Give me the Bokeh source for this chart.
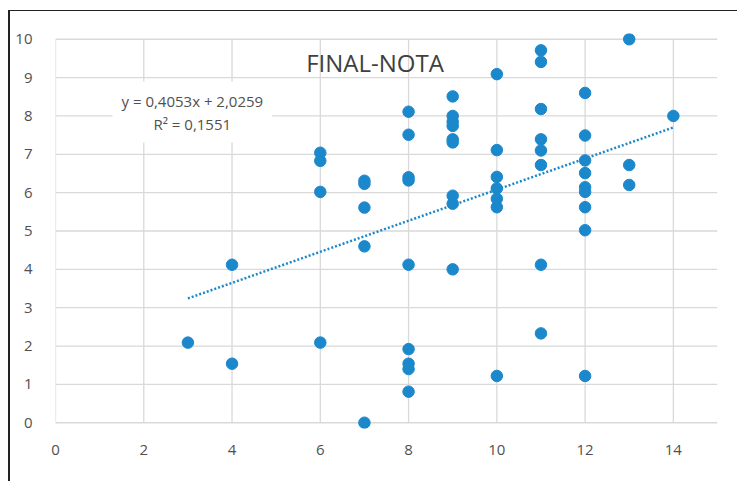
from bokeh.plotting import figure
from bokeh.models import Range1d, Label, FixedTicker, InlineStyleSheet
from bokeh.embed import file_html
from bokeh.resources import INLINE

# ---- data ----
nota_x = [3,
          4, 4,
          6, 6, 6, 6,
          7, 7, 7, 7, 7,
          8, 8, 8, 8, 8, 8, 8, 8, 8,
          9, 9, 9, 9, 9, 9, 9, 9, 9,
          10, 10, 10, 10, 10, 10, 10,
          11, 11, 11, 11, 11, 11, 11, 11,
          12, 12, 12, 12, 12, 12, 12, 12, 12,
          13, 13, 13,
          14]
nota_final = [2.09,
              4.12, 1.54,
              7.04, 6.83, 6.02, 2.09,
              6.31, 6.23, 5.61, 4.60, 0.0,
              8.11, 7.51, 6.40, 6.32, 4.12, 1.92, 1.54, 1.40, 0.81,
              8.51, 8.00, 7.85, 7.74, 7.39, 7.31, 5.92, 5.71, 4.00,
              9.09, 7.11, 6.41, 6.11, 5.84, 5.62, 1.22,
              9.71, 9.41, 8.18, 7.39, 7.10, 6.72, 4.12, 2.33,
              8.60, 7.49, 6.84, 6.51, 6.14, 6.02, 5.62, 5.02, 1.22,
              10.0, 6.72, 6.20,
              8.0]

trend_slope = 0.4053
trend_intercept = 2.0259
trend_x = [3, 14]
trend_y = [trend_slope * v + trend_intercept for v in trend_x]

x_ticks = [0, 2, 4, 6, 8, 10, 12, 14]
y_ticks = [0, 1, 2, 3, 4, 5, 6, 7, 8, 9, 10]
x_max = 15
y_max = 10

title_text = "FINAL-NOTA"
equation_text = "y = 0,4053x + 2,0259\nR\u00b2 = 0,1551"

# ---- styling ----
BLUE = "#1C88CC"
GRID = "#D9D9D9"
TEXT = "#505050"
FONT = "Open Sans"

p = figure(
    width=737, height=481,
    frame_width=662, frame_height=395,
    min_border_left=55, min_border_right=20,
    min_border_top=33, min_border_bottom=53,
    x_range=Range1d(0, x_max), y_range=Range1d(-0.15, y_max + 0.15),
    output_backend="svg", toolbar_location=None,
)
p.outline_line_color = None
p.background_fill_color = "white"
p.border_fill_color = "white"
p.grid.visible = False

# outer chart border (left and top edges visible, the rest runs off the picture)
p.stylesheets = [InlineStyleSheet(css=(
    ":host { position: relative; }\n"
    ":host::after { content: ''; position: absolute; left: 8px; top: 10px; "
    "right: 0px; bottom: 0px; border-left: 2px solid #222222; "
    "border-top: 1.5px solid #222222; pointer-events: none; z-index: 10; }"
))]

# gridlines drawn explicitly so they stop at the axis limits
p.segment(x0=[0] * len(y_ticks), x1=[x_max] * len(y_ticks), y0=y_ticks, y1=y_ticks,
          line_color=GRID, line_width=1.3, level="underlay")
p.segment(x0=x_ticks, x1=x_ticks, y0=[0] * len(x_ticks), y1=[y_max] * len(x_ticks),
          line_color=GRID, line_width=1.3, level="underlay")

for ax in (p.xaxis[0], p.yaxis[0]):
    ax.axis_line_color = None
    ax.major_tick_line_color = None
    ax.minor_tick_line_color = None
    ax.major_label_text_font = FONT
    ax.major_label_text_font_size = "15px"
    ax.major_label_text_color = TEXT

p.xaxis[0].ticker = FixedTicker(ticks=x_ticks)
p.yaxis[0].ticker = FixedTicker(ticks=y_ticks)
p.xaxis[0].major_label_standoff = 10
p.yaxis[0].major_label_standoff = 17

p.scatter(nota_x, nota_final, size=11.5, fill_color=BLUE, line_color=BLUE)
p.line(trend_x, trend_y, line_color=BLUE, line_width=2.5, line_dash="2 2")

p.add_layout(Label(x=7.24, y=9.39, text=title_text, text_align="center",
                   text_baseline="middle", text_font=FONT, text_font_size="24px",
                   text_color="#404040"))
p.add_layout(Label(x=3.1, y=8.1, text=equation_text, text_align="center",
                   text_baseline="middle", text_font=FONT, text_font_size="15px",
                   text_color=TEXT, text_line_height=1.15,
                   background_fill_color="white", padding=9))

open("out.html", "w").write(file_html(p, INLINE))
